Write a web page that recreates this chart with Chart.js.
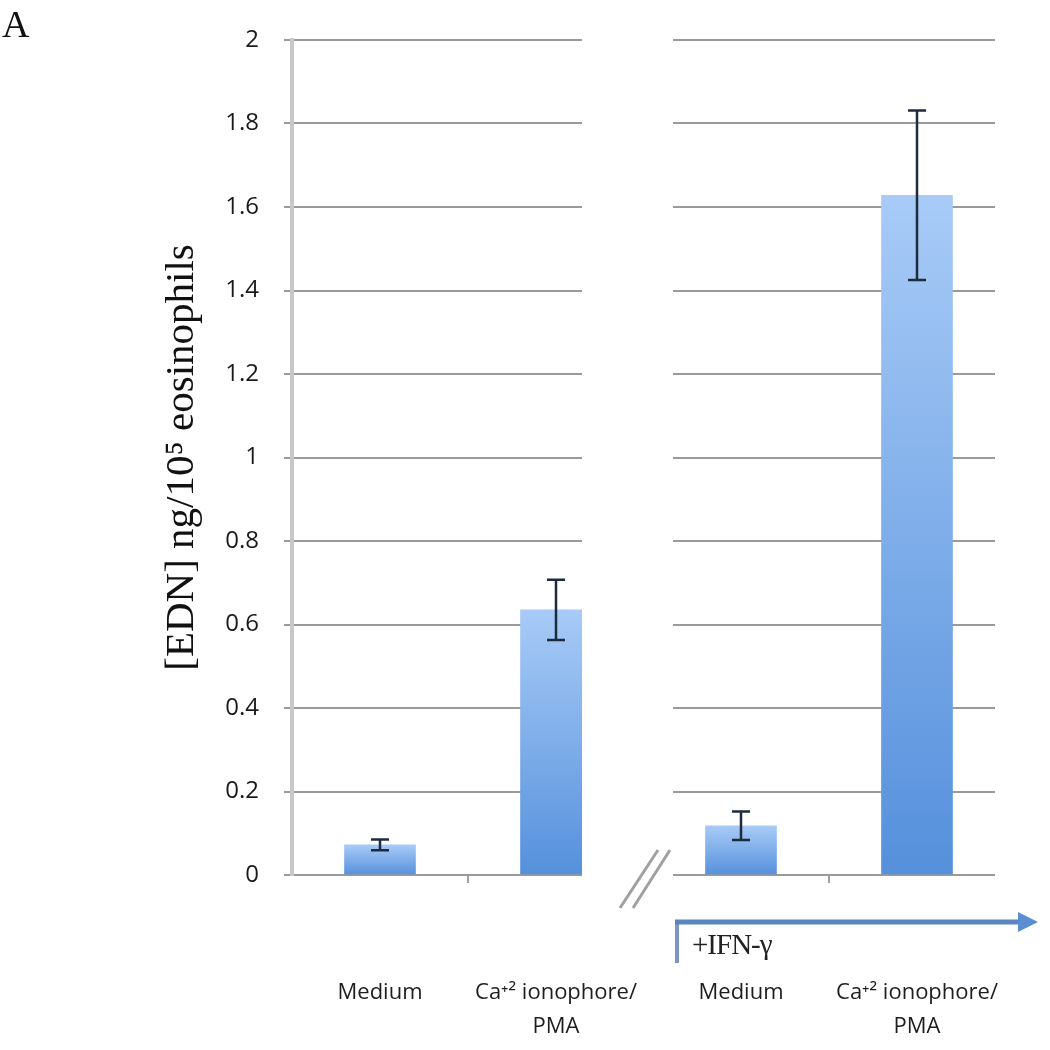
<!DOCTYPE html>
<html>
<head>
<meta charset="utf-8">
<script src="https://cdn.jsdelivr.net/npm/chart.js@4"></script>
<style>
  html, body { margin: 0; padding: 0; background: #fff; }
  #wrap { position: relative; width: 1050px; height: 1050px; overflow: hidden; }
  #wrap canvas { position: absolute; left: 0; top: 0; }
  #panelLabel { position: absolute; left: 2px; top: 2px; font: 38px "Liberation Serif", serif; color: #111; }
  #ifn { position: absolute; left: 692px; top: 928px; font: 29px "Liberation Serif", serif; color: #222; letter-spacing: -1px; }
  #deco { position: absolute; left: 0; top: 0; }
</style>
</head>
<body>
<div id="wrap">
  <canvas id="leftChart" width="1050" height="1050"></canvas>
  <canvas id="rightChart" width="1050" height="1050"></canvas>
  <svg id="deco" width="1050" height="1050">
    <!-- axis break -->
    <line x1="620" y1="908" x2="658" y2="850" stroke="#a0a0a0" stroke-width="3"/>
    <line x1="633" y1="908" x2="670" y2="850" stroke="#a0a0a0" stroke-width="3"/>
    <!-- +IFN-gamma arrow -->
    <line x1="677" y1="920" x2="677" y2="963" stroke="#7f95c4" stroke-width="4"/>
    <line x1="675" y1="922" x2="1022" y2="922" stroke="#5a86be" stroke-width="5"/>
    <polygon points="1018,912 1038,922 1018,932" fill="#5a8fcf"/>
  </svg>
  <div id="panelLabel">A</div>
  <div id="ifn">+IFN-γ</div>
</div>
<script>
// values
const categories = ["Medium", ["Ca⁺² ionophore/", "PMA"]];
const withoutIfn = [0.072, 0.635];
const withoutIfnErr = [0.013, 0.072];
const withIfn = [0.118, 1.628];
const withIfnErr = [0.034, 0.203];
const yTicks = [0, 0.2, 0.4, 0.6, 0.8, 1, 1.2, 1.4, 1.6, 1.8, 2];
const yTitle = "[EDN] ng/10⁵ eosinophils";

// bar positions in category units (centre of category i = i + 0.5)
const barPos = [0.5, 1.5];

function barGradient(ctx) {
  const chart = ctx.chart;
  if (!chart.chartArea || ctx.type !== "data") return "#7aaae6";
  const y = chart.scales.y;
  const top = y.getPixelForValue(ctx.raw.y);
  const bottom = y.getPixelForValue(0);
  const g = chart.ctx.createLinearGradient(0, top, 0, bottom);
  g.addColorStop(0, "#a8cbf7");
  g.addColorStop(1, "#5590dc");
  return g;
}

const errorBars = {
  id: "errorBars",
  afterDatasetsDraw(chart, args, opts) {
    const c = chart.ctx;
    const x = chart.scales.x, y = chart.scales.y;
    c.save();
    c.strokeStyle = "#1d2b3c";
    c.lineWidth = 2.5;
    opts.values.forEach((v, i) => {
      const px = x.getPixelForValue(barPos[i]);
      const hi = y.getPixelForValue(v + opts.errors[i]);
      const lo = y.getPixelForValue(v - opts.errors[i]);
      c.beginPath();
      c.moveTo(px, hi); c.lineTo(px, lo);
      c.moveTo(px - 9, hi); c.lineTo(px + 9, hi);
      c.moveTo(px - 9, lo); c.lineTo(px + 9, lo);
      c.stroke();
    });
    c.restore();
  }
};

function makePanel(id, values, errors, xMin, xMax, leftWidth, rightPad, showY) {
  return new Chart(document.getElementById(id), {
    type: "bar",
    data: {
      datasets: [{
        data: values.map((v, i) => ({ x: barPos[i], y: v })),
        backgroundColor: barGradient,
        borderWidth: 0,
        barThickness: 71
      }]
    },
    plugins: [errorBars],
    options: {
      responsive: false,
      animation: false,
      layout: { padding: { top: 40, right: rightPad, left: 0, bottom: 0 } },
      plugins: {
        legend: { display: false },
        tooltip: { enabled: false },
        errorBars: { values: values, errors: errors }
      },
      scales: {
        x: {
          type: "linear",
          offset: false,
          min: xMin,
          max: xMax,
          afterBuildTicks: (s) => { s.ticks = [{ value: 0.5 }, { value: 1 }, { value: 1.5 }]; },
          afterFit: (s) => {
            s.height = 175;
            s.paddingLeft = 0;
            s.paddingRight = 0;
          },
          border: { display: false },
          grid: {
            offset: false,
            drawOnChartArea: false,
            tickLength: 8,
            lineWidth: 2,
            color: (c) => (c.tick && c.tick.value === 1 ? "#a0a0a0" : "rgba(0,0,0,0)")
          },
          ticks: {
            autoSkip: false,
            maxRotation: 0,
            padding: 93,
            color: "#1e1e1e",
            font: { family: "'Open Sans'", size: 22, lineHeight: 1.55 },
            callback: (v) => (v === 0.5 ? categories[0] : v === 1.5 ? categories[1] : "")
          }
        },
        y: {
          min: 0,
          max: 2,
          afterBuildTicks: (s) => { s.ticks = yTicks.map((v) => ({ value: v })); },
          afterFit: (s) => { s.width = leftWidth; },
          border: showY ? { display: true, color: "#c8c8c8", width: 4 } : { display: false },
          grid: {
            color: "#9a9a9a",
            lineWidth: 2,
            drawTicks: showY,
            tickLength: 8
          },
          ticks: {
            display: showY,
            padding: 25,
            color: "#1a1a1a",
            font: { family: "'Open Sans'", size: 24 },
            callback: (v) => String(v)
          },
          title: {
            display: showY,
            text: yTitle,
            color: "#111",
            font: { family: "'Liberation Serif'", size: 41 },
            padding: { top: 158, bottom: 0 }
          }
        }
      }
    }
  });
}

makePanel("leftChart", withoutIfn, withoutIfnErr, 0, 290 / 176, 292, 1050 - 582, true);
makePanel("rightChart", withIfn, withIfnErr, 20 / 176, 342 / 176, 673, 55, false);
</script>
</body>
</html>
